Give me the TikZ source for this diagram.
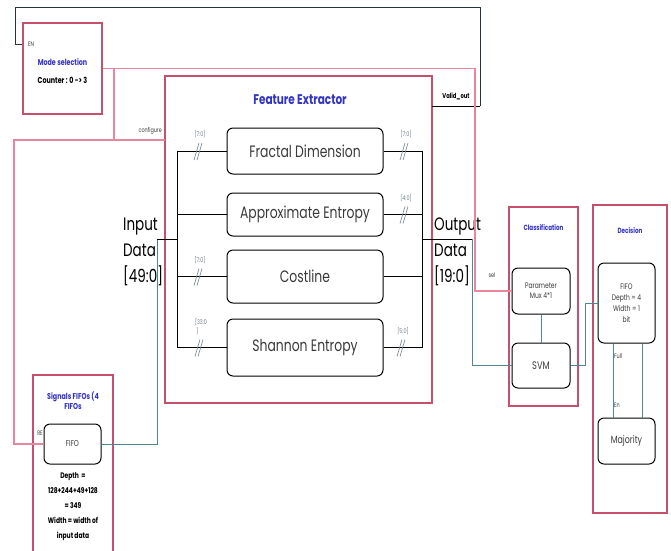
\documentclass[tikz,border=0pt]{standalone}
\usepackage{fontspec}
\setmainfont{Poppins}[FakeStretch=0.75]
\usepackage{xcolor}
\definecolor{boxred}   {HTML}{C4506C}
\definecolor{linkpink} {HTML}{E8869B}
\definecolor{linkteal} {HTML}{4E8793}
\definecolor{ctldark}  {HTML}{24343A}
\definecolor{titleblue}{HTML}{3434C4}
\definecolor{markgray} {HTML}{70808C}
\definecolor{textgray} {HTML}{3A3A3A}
\usetikzlibrary{positioning, calc}

\begin{document}
\begin{tikzpicture}[x=1pt, y=-1pt,
    block/.style={draw=boxred, line width=1.1pt, fill=white, inner sep=0pt},
    unit/.style={draw=black, line width=1pt, rounded corners=6pt, fill=white,
        inner sep=0pt, align=center, text=textgray},
    busline/.style={draw=black, line width=1pt},
    pinkline/.style={draw=linkpink, line width=1.3pt},
    tealline/.style={draw=linkteal, line width=0.9pt},
    ctlline/.style={draw=ctldark, line width=0.9pt},
    btitle/.style={font=\bfseries\fontsize{8.5}{10}\selectfont, text=titleblue, align=center},
    tag/.style={font=\fontsize{6.5}{7}\selectfont, text=textgray, inner sep=0pt},
    bustag/.style={font=\fontsize{6.5}{6.5}\selectfont, text=markgray, inner sep=0pt, align=left},
    bigtext/.style={font=\fontsize{18}{26}\selectfont, text=black, align=left, inner sep=0pt}]
    \useasboundingbox (0,0) rectangle (671,550);
    \clip (0,0) rectangle (671,550);

    % outer blocks
    \node[block, minimum width=79, minimum height=91] (modesel) at (62.5,68.5) {};
    \node[block, minimum width=267, minimum height=327] (fe) at (298.5,239.5) {};
    \node[block, minimum width=69, minimum height=199] (classif) at (543.5,306.5) {};
    \node[block, minimum width=74, minimum height=308] (decis) at (630,359) {};
    \node[block, minimum width=80, minimum height=190] (sigfifo) at (73,470) {};

    % block titles and notes
    \node[tag] (en) at (31,44) {EN};
    \node[btitle] (modettl) at (62.5,62) {Mode selection};
    \node[font=\bfseries\fontsize{8.5}{10}\selectfont] (counter) at (62.5,80) {Counter : 0 -> 3};
    \node[font=\bfseries\fontsize{14}{16}\selectfont, text=titleblue] (fettl) at (300,100) {Feature Extractor};
    \node[btitle, font=\bfseries\fontsize{7.5}{9}\selectfont] (clsttl) at (543.5,228) {Classification};
    \node[btitle, font=\bfseries\fontsize{7.5}{9}\selectfont] (decttl) at (630,231) {Decision};
    \node[btitle] (sigttl) at (73,401) {Signals FIFOs (4\\FIFOs};
    \node[font=\bfseries\fontsize{8}{15}\selectfont, align=center] (signote) at (73,507)
        {Depth~~=\\128+244+49+128\\= 349\\Width = width of\\input data};

    % feature extractor units
    \node[unit, font=\fontsize{16.5}{18}\selectfont, minimum width=156, minimum height=46] (fract) at (305,151) {Fractal Dimension};
    \node[unit, font=\fontsize{16.5}{18}\selectfont, minimum width=156, minimum height=43] (approx) at (305,214.5) {Approximate Entropy};
    \node[unit, font=\fontsize{16.5}{18}\selectfont, minimum width=156, minimum height=53] (cost) at (305,276.5) {Costline};
    \node[unit, font=\fontsize{16.5}{18}\selectfont, minimum width=156, minimum height=57] (shan) at (305,347.5) {Shannon Entropy};

    % classification and decision units
    \node[unit, font=\fontsize{8}{10}\selectfont, minimum width=58, minimum height=46] (parmux) at (541,291) {Parameter\\Mux 4*1};
    \node[unit, font=\fontsize{11}{13}\selectfont, minimum width=58, minimum height=45] (svm) at (541,365.5) {SVM};
    \node[unit, font=\fontsize{8}{11}\selectfont, minimum width=57, minimum height=80] (dfifo) at (626.5,303) {FIFO\\Depth = 4\\Width = 1\\bit};
    \node[unit, font=\fontsize{10.5}{12}\selectfont, minimum width=57, minimum height=46] (major) at (626.5,441) {Majority};
    \node[tag] (re) at (40,433) {RE};
    \node[unit, font=\fontsize{8.5}{10}\selectfont, minimum width=57, minimum height=40] (sfifo) at (72.5,444) {FIFO};

    % data labels
    \node[bigtext, anchor=west] (indata) at (123,252) {Input\\Data\\{[49:0]}};
    \node[bigtext, anchor=west] (outdata) at (434,252) {Output\\Data\\{[19:0]}};
    \node[tag, anchor=east] (cfgtag) at (162,131) {configure};
    \node[font=\bfseries\fontsize{7}{8}\selectfont, inner sep=0pt] (validtag) at (456,96) {Valid\_out};
    \node[tag] (seltag) at (492,275) {sel};
    \node[tag, anchor=west] (fulltag) at (614,356) {Full};
    \node[tag, anchor=west] (entag) at (614,405) {En};

    % control lines
    \coordinate (vo) at (432,106);
    \coordinate (cfg) at (165,140);
    \coordinate (cfgtap) at (114,68.5);
    \draw[busline] (vo) -- (480,106);
    \draw[ctlline] (480,106) |- (15,7) |- (modesel.west |- en);
    \draw[pinkline] (modesel.east) -- (475,68.5) |- (parmux.west);
    \draw[pinkline] (cfgtap) |- (cfg);
    \draw[pinkline] (cfg) -- (14,140) |- (sfifo.west);

    % input side bus
    \coordinate (inbus) at (177,239);
    \draw[tealline] (sfifo.east) -| (157,239);
    \draw[busline] (157,239) -- (inbus);
    \draw[busline] (fract.west) -| (inbus |- shan.west) -- (shan.west);
    \draw[busline] (approx.west) -- (approx.west -| inbus);
    \draw[busline] (cost.west) -- (cost.west -| inbus);

    % output side bus
    \coordinate (outbus) at (422,239);
    \draw[busline] (fract.east) -| (outbus |- shan.east) -- (shan.east);
    \draw[busline] (approx.east) -- (approx.east -| outbus);
    \draw[busline] (cost.east) -- (cost.east -| outbus);
    \draw[busline] (outbus) -- (472,239);
    \draw[tealline] (472,239) |- (svm.west);

    % classification to decision
    \draw[tealline] (parmux.south) -- (svm.north);
    \draw[tealline] (svm.east) -- ++(15,0) |- (dfifo.west);
    \draw[tealline] ([xshift=-13.5]dfifo.south) -- ([xshift=-13.5]major.north);
    \draw[tealline] ([xshift=15.5]dfifo.south) -- ([xshift=15.5]major.north);

    % bus width marks
    \foreach \x/\y/\lab in {198/151/{[7:0]}, 198/276.5/{[7:0]}, 199/347.5/{[33:0\\\,]},
                            404/151/{[7:0]}, 404/214.5/{[4:0]}, 401/347.5/{[5:0]}} {
        \draw[markgray, line width=0.6pt] (\x-4,\y+9) -- (\x+1,\y-8) (\x-1,\y+9) -- (\x+4,\y-8);
        \node[bustag, anchor=south] at (\x+2,\y-13) {\lab};
    }
\end{tikzpicture}
\end{document}
